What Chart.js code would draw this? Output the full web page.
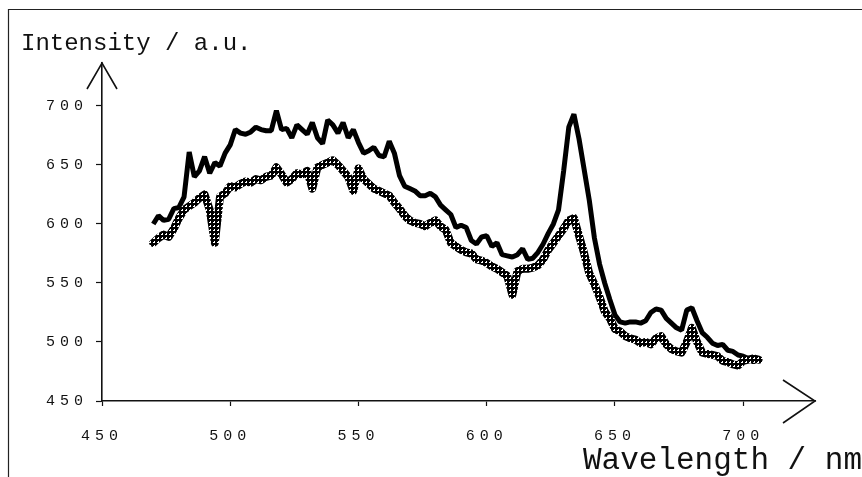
<!DOCTYPE html>
<html>
<head>
<meta charset="utf-8">
<script src="https://cdn.jsdelivr.net/npm/chart.js@4.4.1/dist/chart.umd.min.js"></script>
<style>
  html, body { margin: 0; padding: 0; background: #fff; }
  #wrap { width: 862px; height: 477px; }
</style>
</head>
<body>
<div id="wrap"><canvas id="spectrum" width="862" height="477"></canvas></div>
<script>
// wavelength grid (nm), 2 nm steps
const wavelengths = [];
for (let w = 470; w <= 706; w += 2) wavelengths.push(w);

// solid black spectrum
const solidSeries = [
  600, 607, 603, 604, 613, 614, 623, 661, 640, 645,
  657, 643, 652, 649, 660, 667, 680, 677, 676, 678,
  682, 680, 679, 679, 696, 680, 681, 673, 684, 680,
  676, 686, 673, 668, 688, 684, 677, 686, 673, 680,
  669, 660, 662, 665, 658, 657, 670, 660, 641, 632,
  630, 628, 624, 624, 626, 623, 616, 612, 608, 597,
  599, 597, 586, 583, 589, 590, 581, 584, 574, 573,
  572, 574, 579, 570, 571, 576, 583, 592, 600, 612,
  645, 682, 693, 672, 646, 620, 588, 566, 550, 536,
  523, 517, 516, 517, 517, 516, 518, 525, 528, 527,
  520, 516, 512, 510, 527, 529, 518, 508, 504, 499,
  497, 498, 493, 492, 489, 488, 486, 483, 486
];

// hatched spectrum
const hatchedSeries = [
  584, 588, 591, 589, 596, 605, 612, 615, 618, 622,
  625, 612, 584, 623, 626, 632, 631, 634, 636, 635,
  638, 637, 640, 641, 648, 642, 635, 638, 643, 642,
  645, 630, 648, 650, 652, 654, 650, 645, 640, 628,
  647, 638, 634, 630, 628, 626, 624, 618, 613, 607,
  603, 601, 600, 598, 601, 603, 598, 595, 584, 581,
  578, 576, 575, 570, 569, 567, 564, 562, 559, 556,
  540, 560, 562, 562, 563, 565, 570, 578, 584, 590,
  596, 603, 605, 590, 575, 558, 549, 538, 526, 520,
  511, 509, 505, 503, 502, 499, 500, 498, 503, 505,
  498, 494, 492, 491, 500, 512, 500, 491, 490, 489,
  488, 484, 483, 481, 480, 484, 485, 486, 485
];

const xTicks = [450, 500, 550, 600, 650, 700];
const yTicks = [450, 500, 550, 600, 650, 700];

const FONT = "'Liberation Mono', 'DejaVu Sans Mono', monospace";
const INK = '#111';

// crosshatch pattern for the second trace
function makeHatch() {
  const c = document.createElement('canvas');
  c.width = 4; c.height = 4;
  const g = c.getContext('2d');
  g.fillStyle = '#fff';
  g.fillRect(0, 0, 4, 4);
  g.fillStyle = '#000';
  const tile = [
    [1, 1, 1, 1],
    [1, 1, 0, 1],
    [1, 0, 0, 1],
    [1, 1, 1, 1]
  ];
  tile.forEach((row, y) => row.forEach((v, x) => { if (v) g.fillRect(x, y, 1, 1); }));
  return g.createPattern(c, 'repeat');
}

// the tick digits in the original are printed wide apart
const spacing = {
  id: 'spacing',
  beforeDraw(chart) { chart.ctx.letterSpacing = '5px'; }
};

const decor = {
  id: 'decor',
  afterDraw(chart) {
    const { ctx, chartArea: a } = chart;
    ctx.letterSpacing = '0px';
    ctx.save();
    // outer frame (top and left edges only)
    ctx.strokeStyle = '#222';
    ctx.lineWidth = 1.2;
    ctx.beginPath();
    ctx.moveTo(862, 9.5);
    ctx.lineTo(8.5, 9.5);
    ctx.lineTo(8.5, 477);
    ctx.stroke();

    // arrow heads
    ctx.strokeStyle = INK;
    ctx.lineWidth = 1.6;
    ctx.beginPath();
    ctx.moveTo(a.left - 15, a.top + 26);
    ctx.lineTo(a.left, a.top);
    ctx.lineTo(a.left + 15, a.top + 26);
    ctx.moveTo(a.right - 32, a.bottom - 21);
    ctx.lineTo(a.right, a.bottom);
    ctx.lineTo(a.right - 32, a.bottom + 22);
    ctx.stroke();

    // axis captions
    ctx.fillStyle = INK;
    ctx.textBaseline = 'alphabetic';
    ctx.font = '24px ' + FONT;
    ctx.textAlign = 'left';
    ctx.fillText('Intensity / a.u.', 21, 50);
    ctx.font = '31px ' + FONT;
    ctx.textAlign = 'right';
    ctx.fillText('Wavelength / nm', 862, 469);
    ctx.restore();
  }
};

const hatch = makeHatch();

new Chart(document.getElementById('spectrum'), {
  type: 'line',
  data: {
    datasets: [
      {
        label: 'hatched',
        data: wavelengths.map((w, i) => ({ x: w, y: hatchedSeries[i] })),
        borderColor: hatch,
        borderWidth: 8,
        pointRadius: 0,
        tension: 0,
        borderJoinStyle: 'round',
        borderCapStyle: 'round'
      },
      {
        label: 'solid',
        data: wavelengths.map((w, i) => ({ x: w, y: solidSeries[i] })),
        borderColor: '#000',
        borderWidth: 5,
        pointRadius: 0,
        tension: 0,
        borderJoinStyle: 'bevel'
      }
    ]
  },
  options: {
    responsive: false,
    animation: false,
    events: [],
    layout: { padding: { left: 0, top: 63, right: 47, bottom: 0 } },
    plugins: { legend: { display: false }, tooltip: { enabled: false } },
    scales: {
      x: {
        type: 'linear',
        min: 450,
        max: 728,
        afterFit: s => { s.height = 76; },
        afterBuildTicks: s => { s.ticks = xTicks.map(v => ({ value: v })); },
        grid: { drawOnChartArea: false, drawTicks: true, tickLength: 5, color: INK, tickWidth: 1.2 },
        border: { display: true, color: INK, width: 1.6 },
        ticks: {
          font: { family: FONT, size: 15 },
          color: INK,
          padding: 21,
          maxRotation: 0,
          autoSkip: false
        }
      },
      y: {
        type: 'linear',
        min: 450,
        max: 736.4,
        afterFit: s => { s.width = 102; },
        afterBuildTicks: s => { s.ticks = yTicks.map(v => ({ value: v })); },
        grid: { drawOnChartArea: false, drawTicks: true, tickLength: 6, color: INK, tickWidth: 1.2 },
        border: { display: true, color: INK, width: 1.6 },
        ticks: {
          font: { family: FONT, size: 15 },
          color: INK,
          padding: 8,
          autoSkip: false
        }
      }
    }
  },
  plugins: [spacing, decor]
});
</script>
</body>
</html>
